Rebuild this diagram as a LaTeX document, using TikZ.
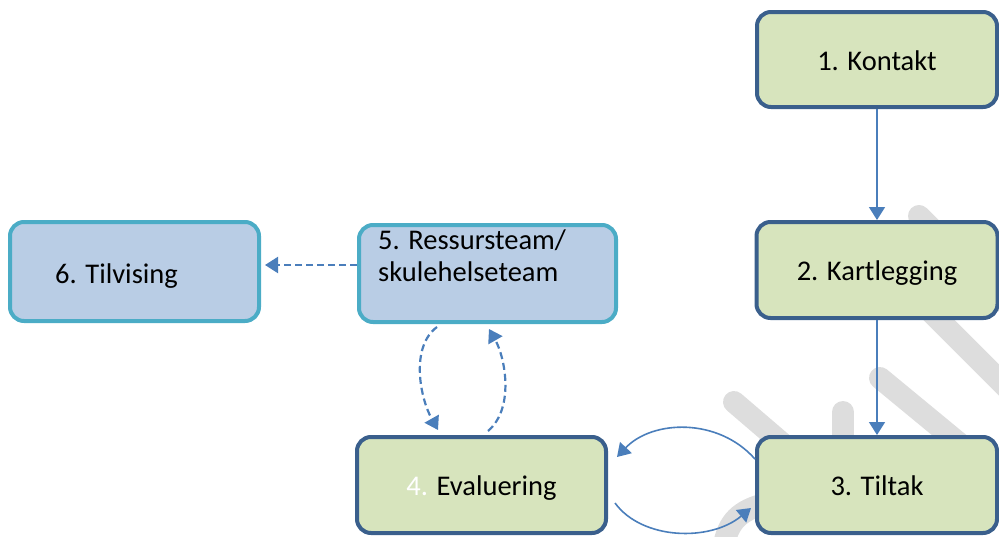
\documentclass[tikz,border=0pt]{standalone}
\usepackage{fontspec}
\setmainfont{Carlito}
\usepackage{tikz}
\usepackage{xcolor}
\usetikzlibrary{arrows.meta, calc}

\definecolor{boxgreen}{HTML}{D7E4BD}
\definecolor{boxblue}{HTML}{B9CDE5}
\definecolor{edgedark}{HTML}{3A5F8C}
\definecolor{edgeteal}{HTML}{4BACC6}
\definecolor{arrowblue}{HTML}{4A7EBB}
\definecolor{wmgrey}{HTML}{DDDDDD}

\begin{document}
\begin{tikzpicture}[
      x=1pt, y=-1pt,
      every node/.style={inner sep=0pt, font=\fontsize{28.5}{31.3}\selectfont},
      stepbox/.style={draw=edgedark, fill=boxgreen, line width=4pt,
        rounded corners=14pt, minimum width=240pt, minimum height=96pt,
        text height=21pt, text depth=0pt},
      teambox/.style={stepbox, draw=edgeteal, fill=boxblue},
      flow/.style={draw=arrowblue, line width=1.6pt,
        -{Triangle[length=13pt, width=16pt]}},
      dflow/.style={flow, line width=2.2pt, dash pattern=on 7pt off 4pt},
      wmark/.style={draw=wmgrey, line width=22pt, line cap=round}
    ]
      \useasboundingbox (0,0) rectangle (999,536);
      \begin{scope}
        \clip (0,0) rectangle (999,536);
        \draw[wmark] (919,216) -- (1010,307);
        \draw[wmark] (920,301) -- (1030,411);
        \draw[wmark] (880,378) -- (960,444);
        \draw[wmark] (734,402) -- (790,450);
        \draw[wmark] (843,412) -- (843,460);
        \draw[wmark] (724,545) .. controls (728,522) and (740,510) .. (765,504);
      \end{scope}

      \node[stepbox, minimum height=95pt] (kontakt) at (877,59.5) {1. Kontakt};
      \node[stepbox, minimum width=241pt] (kartlegg) at (877,270) {2. Kartlegging};
      \node[stepbox] (tiltak) at (877,485) {3. Tiltak};
      \node[stepbox, minimum width=249pt] (evaluering) at (481.5,485)
          {{\color{white}4.} Evaluering};
      \node[teambox, minimum width=257pt, minimum height=97pt] (ressurs) at (487.5,273.5) {};
      \node[teambox, minimum width=249pt, minimum height=99pt] (tilvising) at (134.5,271.5) {};
      \node[anchor=north west, align=left] (ressurs-t) at (378,230)
          {5. Ressursteam/\\skulehelseteam};
      \node[anchor=base west] (tilvising-t) at (55,283) {6. Tilvising};

      \draw[flow] (kontakt) -- (kartlegg);
      \draw[flow] (kartlegg) -- (tiltak);
      \draw[flow] (tiltak.168) .. controls +(-37,-42) and +(35,-37)
          .. ($(evaluering.east)+(9,-28)$);
      \draw[flow] ($(evaluering.east)+(7,18)$) .. controls +(27,37) and +(-41,34)
          .. ($(tiltak.west)+(-4,23)$);
      \draw[dflow] ($(ressurs.south)+(-50.5,3)$) .. controls +(-27,20) and +(-18,-32)
          .. ($(evaluering.north)+(-43.5,-5)$);
      \draw[dflow] ($(evaluering.north)+(6.5,-4)$) .. controls +(27,-23) and +(16,28)
          .. ($(ressurs.south)+(1.5,5)$);
      \draw[dflow] ($(ressurs.west)+(0,-8.5)$) -- ($(tilvising.east)+(4,-6.5)$);
    \end{tikzpicture}
\end{document}
